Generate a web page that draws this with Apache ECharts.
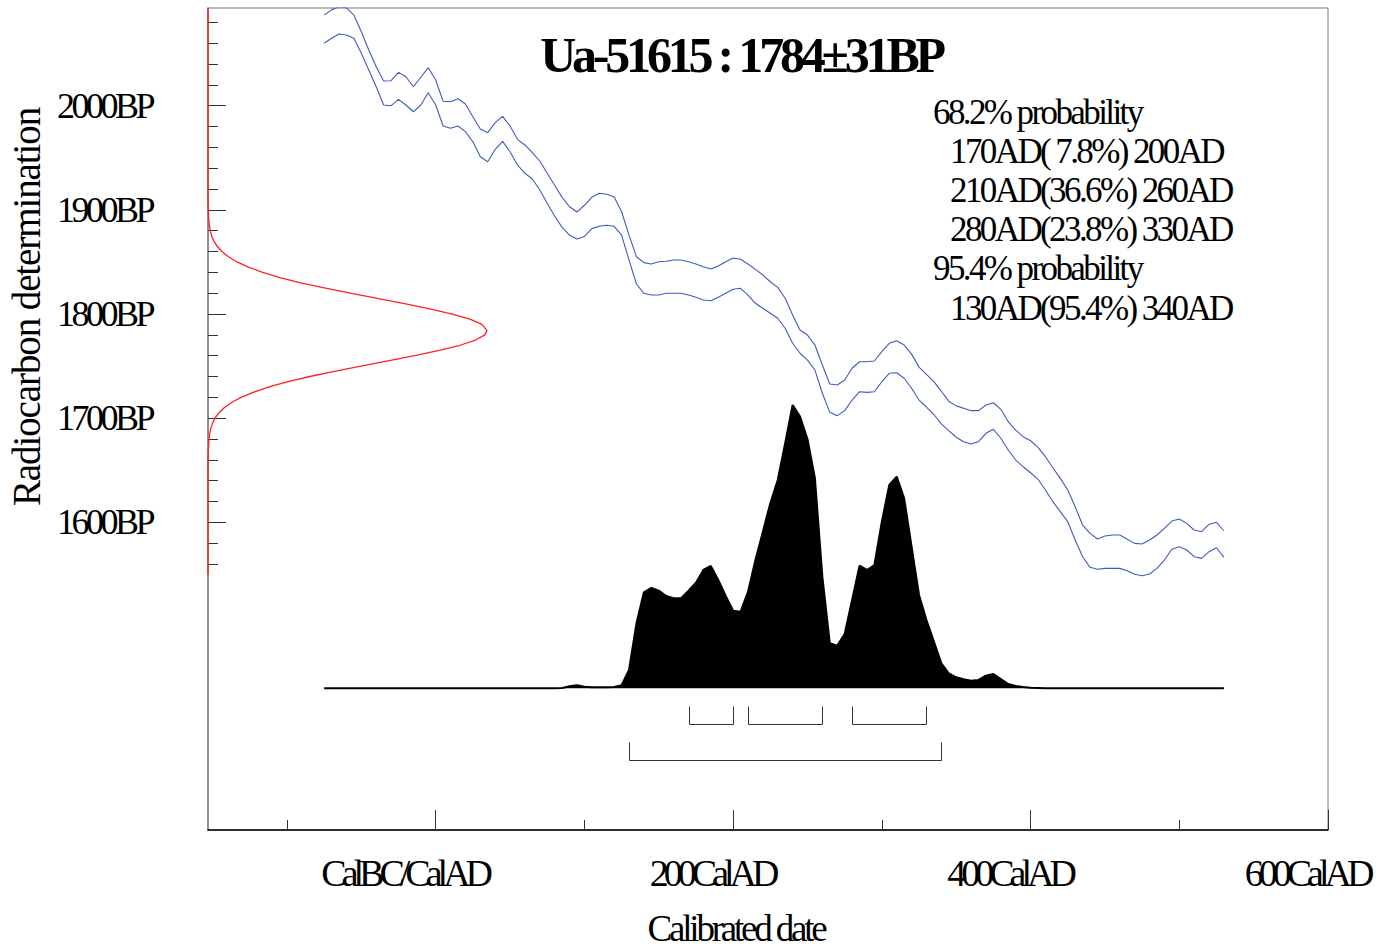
<!DOCTYPE html>
<html>
<head>
<meta charset="utf-8">
<script src="https://cdn.jsdelivr.net/npm/echarts@6/dist/echarts.min.js"></script>
<style>
html, body { margin: 0; padding: 0; background: #fff; }
#chart { width: 1391px; height: 951px; }
#chart text { white-space: pre; }
#chart text[style*="50px"] { letter-spacing: -4.2px; }
#chart text[style*="35px"] { letter-spacing: -2.6px; }
#chart text[style*="36px"] { letter-spacing: -3.5px; }
#chart text[style*="38px"] { letter-spacing: -5px; }
#chart text[style*="39px"] { letter-spacing: -1.1px; }
#chart text[style*="37px"] { letter-spacing: -3.2px; }
</style>
</head>
<body>
<div id="chart"></div>
<script>
// ---------------- data ----------------
const sampleName = 'Ua-51615';
const sampleAge = 1784;
const sampleErr = 31;

// calibration curve (IntCal, +/- 1 sigma envelope), 5-year grid
const calYears = [
  -75,-70,-65,-60,-55,-50,-45,-40,-35,-30,-25,-20,-15,-10,-5,0,
  5,10,15,20,25,30,35,40,45,50,55,60,65,70,75,80,85,90,95,100,
  105,110,115,120,125,130,135,140,145,150,155,160,165,170,175,180,185,190,195,200,
  205,210,215,220,225,230,235,240,245,250,255,260,265,270,275,280,285,290,295,300,
  305,310,315,320,325,330,335,340,345,350,355,360,365,370,375,380,385,390,395,400,
  405,410,415,420,425,430,435,440,445,450,455,460,465,470,475,480,485,490,495,500,
  505,510,515,520,525,530
];
const calUpperBP = [
  2087,2092,2095,2094,2087,2071,2053.5,2037.4,2023.7,2024,2032,2027.8,2018.2,2027.3,2036.5,2024.7,
  2004.2,2003.8,2006.7,2001.6,1989.4,1977.6,1974.1,1983.7,1989.8,1980.5,1967.7,1962.3,1954.9,1946.9,1935.1,1923.6,1912,1903,1897.9,1904.4,
  1912,1915.9,1915,1912.3,1898.2,1875.8,1855,1849.3,1848,1850.2,1850.6,1851.9,1851.9,1850.2,1848,1845.4,1843.2,1846.1,1850.2,1853.8,
  1852.5,1848,1842.9,1837.4,1831,1825.6,1815.1,1799,1784.6,1779.8,1770.2,1751,1732.8,1731.8,1736.6,1747.9,1754.2,1754.2,1754.9,1763.8,
  1771.9,1774.4,1770.2,1761.5,1749,1742,1735,1725.8,1716.3,1711.8,1709.5,1707.2,1707.2,1712.6,1714.8,1708.5,1696.6,1688.6,1682.2,1678.3,
  1672,1663,1652.4,1642.2,1631,1615,1597.4,1589.4,1584,1586.8,1587.8,1587.8,1583.7,1579.8,1579.2,1583,1587.8,1594.2,1601.2,1603.2,
  1599,1592.6,1591,1598.1,1600,1591.9
];
const calLowerBP = [
  2059.9,2064.7,2068.8,2067.9,2064.7,2050.3,2034.3,2018.2,2000.7,2000,2006.1,2000.7,1994.2,2000.7,2012.5,2000.7,
  1980.5,1978.3,1980.5,1975.1,1965.4,1951,1946.2,1958.1,1965.8,1955.8,1943.1,1935.1,1929.6,1919.1,1906.3,1894.1,1883.2,1875.8,1872,1874.5,
  1882,1884.2,1885.2,1884.2,1875.8,1851.8,1828.8,1819.9,1818.2,1818.2,1819.9,1819.9,1819.9,1818.2,1816,1813.4,1812.8,1816,1819.9,1823.7,
  1824.7,1818.2,1810.3,1805.5,1800.7,1795.9,1786.3,1771.9,1762.3,1755.8,1746.2,1723.9,1705.6,1702.4,1707.2,1717.4,1725.4,1724.8,1725.4,1735,
  1743.1,1743.6,1738.3,1728.7,1717.4,1710.7,1703.5,1694.5,1688,1681.7,1677.4,1675.2,1677.4,1685.5,1689.3,1680.7,1669.4,1659.8,1653.4,1647.6,
  1641.3,1631,1619.8,1610.2,1600.6,1583,1567,1556.8,1554.9,1555.8,1555.8,1555.8,1553.5,1550.1,1548.7,1550.4,1555.8,1563.8,1574.1,1576.6,
  1573.4,1567,1565.4,1571.8,1575.6,1566.4
];

// calibrated date probability (relative units)
const distYears = [-75,80,85,90,95,100,105,110,115,120,125,130,135,140,145,150,155,160,165,170,175,180,185,190,195,200,
  205,210,215,220,225,230,235,240,245,250,255,260,265,270,275,280,285,290,295,300,
  305,310,315,320,325,330,335,340,345,350,355,360,365,370,375,380,385,390,395,400,405,410,530];
const distProb = [0,0,1,6,9,5,3,3,3,4,9,55,195,288,301,293,277,270,270,293,317,355,367,325,277,233,
  230,289,385,470,555,625,735,850,815,747,630,335,135,128,163,265,368,355,370,500,
  610,635,570,425,280,205,140,75,45,33,27,23,25,38,43,28,13,7,4,2,1,0,0];

// radiocarbon measurement probability (relative, peak = 1)
const measBP = [1550,1600,1640,1650,1660,1670,1680,1685,1690,1695,1700,1705,1710,1715,1720,1725,1730,1735,1740,1745,
  1750,1755,1760,1765,1770,1775,1780,1784,1790,1795,1800,1805,1810,1815,1820,1825,1830,1835,1840,1845,
  1850,1855,1860,1865,1870,1875,1880,1885,1890,1900,1910,1920,1930,2094];
const measProb = [0,0,0,0.0001,0.0003,0.0012,0.0036,0.006,0.010,0.016,0.025,0.039,0.058,0.084,0.119,0.164,0.219,0.287,0.365,0.453,
  0.548,0.645,0.741,0.829,0.903,0.959,0.992,1,0.982,0.939,0.875,0.795,0.704,0.607,0.510,0.417,0.332,0.258,0.196,0.145,
  0.104,0.073,0.050,0.033,0.021,0.013,0.0083,0.005,0.0029,0.0009,0.0003,0.0001,0,0];

// highest probability ranges [from, to, percent]
const ranges68 = [[170, 200, 7.8], [210, 260, 36.6], [280, 330, 23.8]];
const ranges95 = [[130, 340, 95.4]];

// axis ticks and labels
const yMajorTicks = [1600, 1700, 1800, 1900, 2000];
const yMinorTicks = [1560,1580,1600,1620,1640,1660,1680,1700,1720,1740,1760,1780,1800,1820,1840,1860,1880,1900,1920,1940,1960,1980,2000,2020,2040,2060,2080];
const xMajorTicks = [0, 200, 400, 600];
const xMinorTicks = [-100, 100, 300, 500];

// ---------------- chart ----------------
const FONT = "'Liberation Serif', 'Times New Roman', serif";
const chart = echarts.init(document.getElementById('chart'), null, { renderer: 'svg' });

function pct(p) { const s = p.toFixed(1); return s.length < 4 ? ' ' + s : s; }
const blockLines = ['{h|68.2% probability}'];
ranges68.forEach(r => blockLines.push('{r|' + r[0] + 'AD(' + pct(r[2]) + '%) ' + r[1] + 'AD}'));
blockLines.push('{h|95.4% probability}');
ranges95.forEach(r => blockLines.push('{r|' + r[0] + 'AD(' + pct(r[2]) + '%) ' + r[1] + 'AD}'));

const bracketData = [];
ranges68.forEach(r => bracketData.push([r[0], r[1], 0]));
ranges95.forEach(r => bracketData.push([r[0], r[1], 1]));

const X_MIN = -153.1, X_MAX = 600;
const Y_MIN = 1304.6, Y_MAX = 2093.8;

const option = {
  animation: false,
  backgroundColor: '#fff',
  title: [
    {
      text: sampleName + ' : ' + sampleAge + '\u00b1' + sampleErr + 'BP',
      left: 741, top: 54.5, padding: 0,
      textAlign: 'center', textVerticalAlign: 'middle',
      textStyle: { fontFamily: FONT, fontSize: 50, fontWeight: 'bold', color: '#000' }
    },
    {
      text: blockLines.join('\n'),
      left: 933, top: 92.5, padding: 0,
      textAlign: 'left', textVerticalAlign: 'top',
      textStyle: {
        fontFamily: FONT, fontSize: 35, fontWeight: 'normal', color: '#000', lineHeight: 39.2,
        rich: {
          h: { fontFamily: FONT, fontSize: 35, fontWeight: 'normal', color: '#000', lineHeight: 39.2 },
          r: { fontFamily: FONT, fontSize: 35, fontWeight: 'normal', color: '#000', lineHeight: 39.2, padding: [0, 0, 0, 17] }
        }
      }
    }
  ],
  grid: {
    left: 208, right: 63, top: 8, bottom: 121,
    show: true, borderColor: '#777', borderWidth: 1, backgroundColor: 'transparent',
    containLabel: false, outerBoundsMode: 'none'
  },
  xAxis: [
    {
      type: 'value', min: X_MIN, max: X_MAX, position: 'bottom',
      axisLine: { show: true, onZero: false, lineStyle: { color: '#000', width: 1.5 } },
      axisTick: { show: true, inside: true, length: 20, customValues: xMajorTicks, lineStyle: { color: '#333', width: 1 } },
      axisLabel: {
        show: true, customValues: xMajorTicks, margin: 24,
        fontFamily: FONT, fontSize: 38, color: '#000',
        formatter: v => v === 0 ? '{w|CalBC/CalAD}' : '{n|' + v + 'CalAD}',
        rich: {
          w: { fontFamily: FONT, fontSize: 38, color: '#000', padding: [0, 62, 0, 0] },
          n: { fontFamily: FONT, fontSize: 38, color: '#000', padding: [0, 42, 0, 0] }
        }
      },
      splitLine: { show: false },
      name: 'Calibrated date', nameLocation: 'middle', nameGap: 80, nameMoveOverlap: false,
      nameTextStyle: { fontFamily: FONT, fontSize: 37, color: '#000', padding: [0, 64, 0, 0] }
    },
    {
      type: 'value', min: X_MIN, max: X_MAX, position: 'bottom',
      axisLine: { show: false, onZero: false },
      axisTick: { show: true, inside: true, length: 10, customValues: xMinorTicks, lineStyle: { color: '#333', width: 1 } },
      axisLabel: { show: false },
      splitLine: { show: false }
    },
    {
      type: 'value', min: 0, max: 4.014, show: false, position: 'top',
      axisLine: { onZero: false }, splitLine: { show: false }
    }
  ],
  yAxis: [
    {
      type: 'value', min: Y_MIN, max: Y_MAX, position: 'left',
      axisLine: { show: true, onZero: false, lineStyle: { color: '#808080', width: 1.5 } },
      axisTick: { show: true, inside: true, length: 18, customValues: yMajorTicks, lineStyle: { color: '#333', width: 1 } },
      axisLabel: {
        show: true, customValues: yMajorTicks, margin: 56,
        fontFamily: FONT, fontSize: 36, color: '#000',
        formatter: v => v + 'BP'
      },
      splitLine: { show: false },
      name: 'Radiocarbon determination', nameLocation: 'middle', nameRotate: 90, nameGap: 162, nameMoveOverlap: false,
      nameTextStyle: { fontFamily: FONT, fontSize: 39, color: '#000', padding: [0, 0, 0, 224] }
    },
    {
      type: 'value', min: Y_MIN, max: Y_MAX, position: 'left',
      axisLine: { show: false, onZero: false },
      axisTick: { show: true, inside: true, length: 10, customValues: yMinorTicks, lineStyle: { color: '#333', width: 1 } },
      axisLabel: { show: false },
      splitLine: { show: false }
    },
    {
      type: 'value', min: -425.1, max: 2040.9, show: false, position: 'right',
      axisLine: { onZero: false }, splitLine: { show: false }
    }
  ],
  series: [
    {
      name: 'Calibrated date', type: 'line', xAxisIndex: 0, yAxisIndex: 2,
      data: distYears.map((y, i) => [y, distProb[i]]),
      symbol: 'none', z: 2,
      lineStyle: { color: '#000', width: 2 },
      areaStyle: { color: '#000', opacity: 1 }
    },
    {
      name: 'Calibration curve +1σ', type: 'line', xAxisIndex: 0, yAxisIndex: 0,
      data: calYears.map((y, i) => [y, calUpperBP[i]]),
      symbol: 'none', z: 3, lineStyle: { color: '#3d5cbf', width: 1.1 }
    },
    {
      name: 'Calibration curve -1σ', type: 'line', xAxisIndex: 0, yAxisIndex: 0,
      data: calYears.map((y, i) => [y, calLowerBP[i]]),
      symbol: 'none', z: 3, lineStyle: { color: '#3d5cbf', width: 1.1 }
    },
    {
      name: 'Radiocarbon determination', type: 'line', xAxisIndex: 2, yAxisIndex: 0,
      data: measBP.map((b, i) => [measProb[i], b]),
      symbol: 'none', z: 4, lineStyle: { color: '#ff2020', width: 1.3 }
    },
    {
      name: 'Ranges', type: 'custom', xAxisIndex: 0, yAxisIndex: 2,
      data: bracketData, z: 5,
      renderItem: function (params, api) {
        const s = api.coord([api.value(0), 0]);
        const e = api.coord([api.value(1), 0]);
        const row = api.value(2);
        const top = Math.round(s[1] + 18 + row * 36) + 0.5;
        const bot = top + 18;
        const xs = Math.round(s[0]) + 0.5, xe = Math.round(e[0]) + 0.5;
        return {
          type: 'polyline',
          shape: { points: [[xs, top], [xs, bot], [xe, bot], [xe, top]] },
          style: { stroke: '#333', lineWidth: 1, fill: 'none' }
        };
      }
    }
  ]
};
chart.setOption(option);
</script>
</body>
</html>
